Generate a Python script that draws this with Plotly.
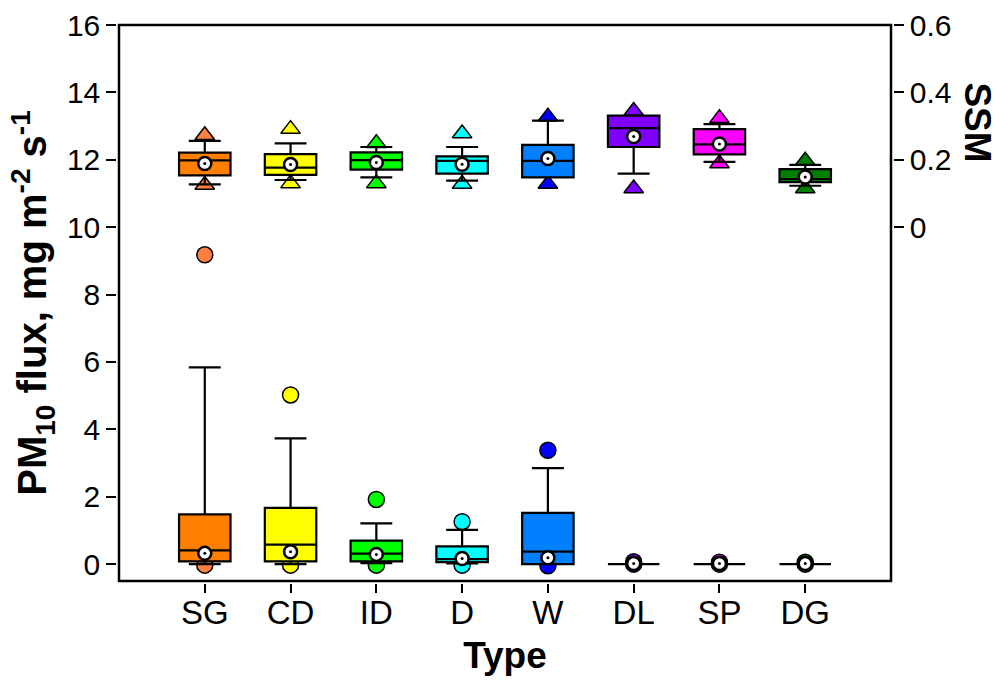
import plotly.graph_objects as go

# ---------------- data ----------------
categories = ["SG", "CD", "ID", "D", "W", "DL", "SP", "DG"]

# PM10 flux (left axis, mg m-2 s-1)
pm_lowfence = [0.00, 0.00, 0.03, 0.02, 0.00, 0.0, 0.0, 0.0]
pm_q1       = [0.08, 0.08, 0.08, 0.06, 0.00, 0.0, 0.0, 0.0]
pm_median   = [0.41, 0.58, 0.31, 0.15, 0.37, 0.0, 0.0, 0.0]
pm_q3       = [1.48, 1.67, 0.70, 0.53, 1.52, 0.0, 0.0, 0.0]
pm_upfence  = [5.84, 3.73, 1.21, 1.02, 2.85, 0.0, 0.0, 0.0]
pm_mean     = [0.32, 0.37, 0.29, 0.17, 0.19, 0.02, 0.02, 0.02]
pm_out_hi   = [9.18, 5.02, 1.92, 1.26, 3.38, 0.07, 0.06, 0.06]
pm_out_lo   = [-0.03, -0.03, -0.03, -0.03, -0.05, 0.0, 0.0, 0.0]

# SSM (right axis)
ssm_lowfence = [0.127, 0.140, 0.148, 0.138, 0.148, 0.159, 0.194, 0.123]
ssm_q1       = [0.154, 0.155, 0.171, 0.159, 0.148, 0.238, 0.216, 0.134]
ssm_median   = [0.198, 0.177, 0.199, 0.197, 0.197, 0.294, 0.246, 0.143]
ssm_q3       = [0.221, 0.217, 0.222, 0.210, 0.244, 0.331, 0.291, 0.172]
ssm_upfence  = [0.256, 0.249, 0.238, 0.238, 0.316, 0.331, 0.306, 0.185]
ssm_mean     = [0.189, 0.186, 0.192, 0.187, 0.204, 0.269, 0.247, 0.149]
ssm_out_hi   = [0.273, 0.291, 0.249, 0.278, 0.328, 0.345, 0.323, 0.197]
ssm_out_lo   = [0.125, 0.130, 0.130, 0.128, 0.128, 0.115, 0.189, 0.115]

box_colors = ["#FF8000", "#FFFF00", "#00FF00", "#00FFFF", "#0080FF", "#8000FF", "#FF00FF", "#008000"]
point_colors = ["#FF8040", "#FFFF00", "#00FF00", "#00FFFF", "#0000FF", "#8000FF", "#FF00FF", "#008000"]

left_ticks = [0, 2, 4, 6, 8, 10, 12, 14, 16]
right_ticks = [0, 0.2, 0.4, 0.6]
right_ticktext = ["0", "0.2", "0.4", "0.6"]

FONT = "Liberation Sans, Arial, sans-serif"

fig = go.Figure()
xpos = list(range(len(categories)))

# outlier / percentile points (drawn behind boxes)
for i in xpos:
    fig.add_trace(go.Scatter(
        x=[i, i], y=[pm_out_hi[i], pm_out_lo[i]], mode="markers", yaxis="y",
        marker=dict(symbol="circle", size=16, color=point_colors[i],
                    line=dict(color="black", width=1.5)),
        showlegend=False, hoverinfo="skip", zorder=0))
    fig.add_trace(go.Scatter(
        x=[i, i], y=[ssm_out_hi[i], ssm_out_lo[i]], mode="markers", yaxis="y2",
        marker=dict(symbol="triangle-up", size=17, color=point_colors[i],
                    line=dict(color="black", width=1.5)),
        showlegend=False, hoverinfo="skip", zorder=0))

# boxes
for i in xpos:
    fig.add_trace(go.Box(
        x=[i], q1=[pm_q1[i]], median=[pm_median[i]], q3=[pm_q3[i]],
        lowerfence=[pm_lowfence[i]], upperfence=[pm_upfence[i]],
        width=0.6, whiskerwidth=0.62, fillcolor=box_colors[i],
        line=dict(color="black", width=2.2), yaxis="y",
        boxpoints=False, showlegend=False, hoverinfo="skip", zorder=1))
    fig.add_trace(go.Box(
        x=[i], q1=[ssm_q1[i]], median=[ssm_median[i]], q3=[ssm_q3[i]],
        lowerfence=[ssm_lowfence[i]], upperfence=[ssm_upfence[i]],
        width=0.6, whiskerwidth=0.62, fillcolor=box_colors[i],
        line=dict(color="black", width=2.2), yaxis="y2",
        boxpoints=False, showlegend=False, hoverinfo="skip", zorder=1))

# means
for yy, ax in ((pm_mean, "y"), (ssm_mean, "y2")):
    fig.add_trace(go.Scatter(
        x=xpos, y=yy, mode="markers", yaxis=ax,
        marker=dict(symbol="circle", size=13, color="white",
                    line=dict(color="black", width=2.5)),
        showlegend=False, hoverinfo="skip", zorder=2))
    fig.add_trace(go.Scatter(
        x=xpos, y=yy, mode="markers", yaxis=ax,
        marker=dict(symbol="circle", size=3, color="black"),
        showlegend=False, hoverinfo="skip", zorder=3))

fig.update_layout(
    width=1003, height=681,
    margin=dict(l=119, r=112, t=25, b=100),
    paper_bgcolor="white", plot_bgcolor="white",
    font=dict(family=FONT, color="black", size=30),
    xaxis=dict(
        range=[-1, 8], tickmode="array", tickvals=xpos, ticktext=categories,
        showline=True, linecolor="black", linewidth=2.5, mirror=True,
        ticks="outside", ticklen=9, tickwidth=2, tickcolor="black",
        ticklabelstandoff=-8,
        showgrid=False, zeroline=False, tickfont=dict(size=33), automargin=False,
        title=dict(text="<b>Type</b>", font=dict(size=37), standoff=12)),
    yaxis=dict(
        range=[-0.5, 16], tickmode="array", tickvals=left_ticks,
        showline=True, linecolor="black", linewidth=2.5, mirror=True,
        ticks="outside", ticklen=10, tickwidth=2, tickcolor="black",
        showgrid=False, zeroline=False, tickfont=dict(size=30), automargin=False,
        title=dict(text="<b>PM<sub>10</sub> flux, mg m<sup>-2</sup> s<sup>-1</sup></b>",
                   font=dict(size=40), standoff=8)),
    yaxis2=dict(
        range=[-1.05, 0.6], overlaying="y", side="right",
        tickmode="array", tickvals=right_ticks, ticktext=right_ticktext,
        showline=True, linecolor="black", linewidth=2.5,
        ticks="outside", ticklen=10, tickwidth=2, tickcolor="black",
        showgrid=False, zeroline=False, tickfont=dict(size=30), automargin=False),
    annotations=[dict(
        text="<b>SSM</b>", textangle=90, xref="paper", yref="paper",
        x=1.112, y=0.824, xanchor="center", yanchor="middle",
        showarrow=False, font=dict(size=37))],
    shapes=[dict(type="rect", xref="paper", yref="paper", x0=0, x1=1, y0=0, y1=1,
                 line=dict(color="black", width=2.5), layer="above")],
)

fig.write_html("out.html")
